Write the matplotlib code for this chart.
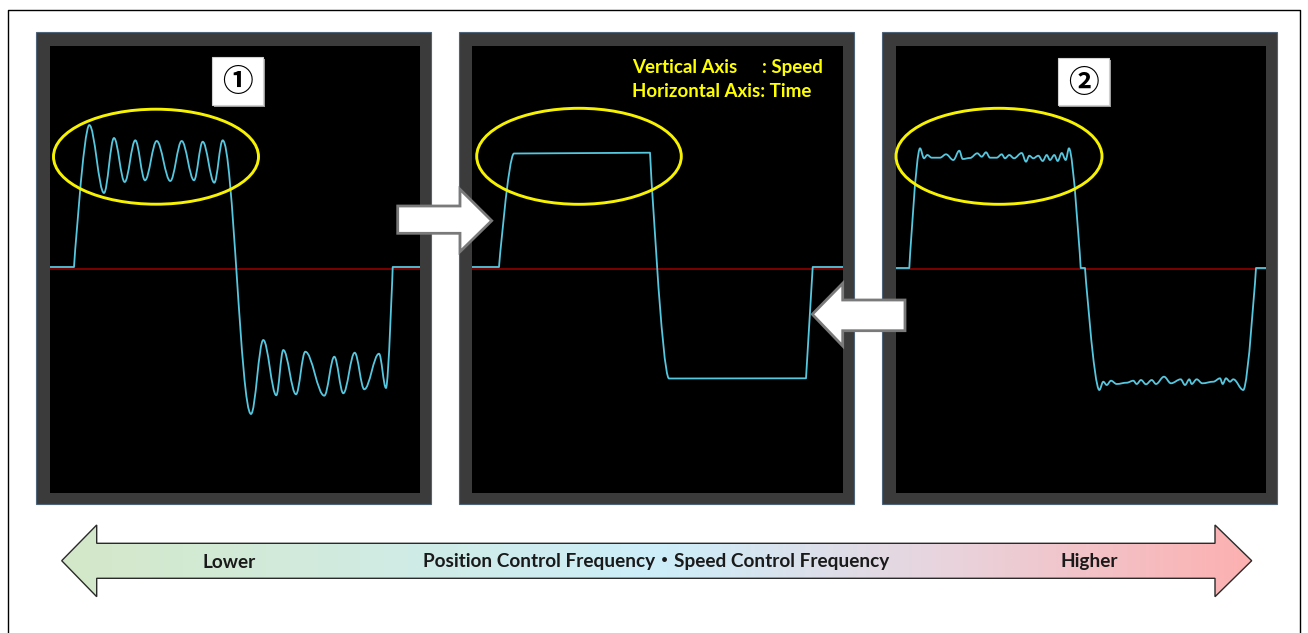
import numpy as np
import matplotlib
matplotlib.use("Agg")
import matplotlib.pyplot as plt
from matplotlib.path import Path
from matplotlib.patches import PathPatch, Rectangle, Ellipse, Polygon
from matplotlib.colors import LinearSegmentedColormap

# ---------------- data (time, speed) ----------------
# segment kinds: M=start, L=line, S=smooth (flat tangents both ends),
# E=ease into point, B=ease out of previous point
p1_time = [0, 24, 39.3, 54, 64, 74.7, 85.3, 95, 106.7, 120.3, 131.7, 144, 152.7, 164.3, 172.7,
           201, 213.3, 226.3, 233.3, 246, 255.3, 274.3, 284.3, 293.3, 304.7, 314.3, 329, 336,
           342.7, 370]
p1_speed = [2, 2, 144, 76, 131, 87, 128.7, 88.7, 128, 88, 128, 88.7, 127.3, 86.3, 128.7,
            -145, -71, -126.3, -81, -125.3, -82.7, -126.7, -87.7, -124.3, -83.7, -120.3, -84.7, -119,
            2, 2]
p1_kind = "ML" + "E" + "S" * 25 + "BL"

p2_time = [0, 27, 42, 178, 197, 334, 340.7, 371]
p2_speed = [2, 2, 115.5, 116.3, -109.5, -109.3, 2, 2]
p2_kind = "MLELELLL"

p3_time = [0, 13.3, 24, 28, 31.3, 35.7, 44, 50, 57.3, 63.3,
           66.7, 74, 81.3, 85.7, 90, 94, 100.7, 105.7, 109, 113.3,
           118, 125.7, 130, 133.3, 137.3, 142.3, 146.7, 150.7, 154, 158.3,
           161.7, 165.7, 169.7, 173, 184.7, 189, 203.3, 207.3, 210.7, 215,
           220.7, 230.7, 237.3, 240.7, 245, 250, 255.7, 260, 268, 275,
           284.7, 289, 293.3, 295.7, 300.7, 306.3, 317.3, 324, 326.7, 330,
           334, 337.3, 347.3, 360, 370]
p3_speed = [1, 1, 120.7, 110.7, 114, 111.3, 111.3, 114.7, 109, 118.3,
            110, 111, 115.7, 112.3, 116.7, 111.3, 111.3, 114.7, 110.7, 114,
            110.7, 116, 107.3, 113.3, 110.7, 113.3, 108, 114, 109, 114,
            108, 116, 109, 120.7, 1, 1, -121, -112.7, -116, -111.7,
            -115, -113.7, -111.7, -115, -111, -115.3, -111, -115, -107.7, -114.3,
            -110.3, -116, -110.3, -115, -110.3, -114.3, -112.7, -109.3, -115, -109.3,
            -112.7, -110.3, -121, 1, 1]
p3_kind = "ML" + "E" + "S" * 31 + "BLE" + "S" * 26 + "BL"

panel_labels = ["①", "②"]
axis_note = ["Vertical Axis", ": Speed", "Horizontal Axis", ": Time"]
bottom_texts = ["Lower", "Position Control Frequency・Speed Control Frequency", "Higher"]

# ---------------- figure ----------------
W, H = 1308, 633
fig = plt.figure(figsize=(W / 100, H / 100), dpi=100)
fig.patch.set_facecolor("white")

def add_px_axes(x0, y0, x1, y1, z):
    ax = fig.add_axes([x0 / W, 1 - y1 / H, (x1 - x0) / W, (y1 - y0) / H])
    ax.set_zorder(z)
    return ax

bg = add_px_axes(0, 0, W, H, 0)
bg.set_xlim(0, W); bg.set_ylim(H, 0); bg.axis("off")

# whole frame
bg.plot([8, 8, 1300, 1300], [633, 10, 10, 633], color="black", lw=1.0)

outer = [(36, 32, 431, 504), (459, 32, 854, 504), (882, 32, 1277, 504)]
inner = [(50, 46, 420, 493), (472, 46, 843, 493), (896, 46, 1266, 493)]
for (x0, y0, x1, y1) in outer:
    bg.add_patch(Rectangle((x0, y0), x1 - x0, y1 - y0, facecolor="#3b3b3b",
                           edgecolor="#4f6379", lw=0.8))

def build_path(t, v, kinds, k=0.36):
    verts = [(t[0], v[0])]
    codes = [Path.MOVETO]
    for i in range(1, len(t)):
        x0, y0, x1, y1 = t[i - 1], v[i - 1], t[i], v[i]
        dx = x1 - x0
        kd = kinds[i]
        if kd == "L":
            verts.append((x1, y1)); codes.append(Path.LINETO)
        else:
            if kd == "S":
                c1 = (x0 + k * dx, y0); c2 = (x1 - k * dx, y1)
            elif kd == "E":
                c1 = (x0, y0); c2 = (x1 - k * dx, y1)
            else:  # B
                c1 = (x0 + k * dx, y0); c2 = (x1, y1)
            verts += [c1, c2, (x1, y1)]
            codes += [Path.CURVE4] * 3
    return Path(verts, codes)

series = [(p1_time, p1_speed, p1_kind), (p2_time, p2_speed, p2_kind), (p3_time, p3_speed, p3_kind)]
for (x0, y0, x1, y1), (t, v, kd) in zip(inner, series):
    ax = add_px_axes(x0, y0, x1, y1, 1)
    ax.set_facecolor("black")
    ax.set_xlim(0, x1 - x0)
    ax.set_ylim(-(y1 - 269), 269 - y0)
    ax.set_xticks([]); ax.set_yticks([])
    for s in ax.spines.values():
        s.set_visible(False)
    ax.axhline(0, color="#a00000", lw=1.1, zorder=1)
    ax.add_patch(PathPatch(build_path(t, v, kd), fill=False, edgecolor="#55c7df",
                           lw=1.3, zorder=2, capstyle="round", joinstyle="round"))

# ---------------- overlay ----------------
ov = add_px_axes(0, 0, W, H, 10)
ov.patch.set_alpha(0)
ov.axis("off")

# ellipses
for (cx, cy, ew, eh) in [(156, 156.7, 205, 95), (579, 156.3, 204.6, 96), (999, 156.3, 206, 96)]:
    ov.add_patch(Ellipse((cx, cy), ew, eh, fill=False, edgecolor="#f7f200", lw=2.1))

# label boxes
boxes = [(212.3, 57.3, 263, 105.3), (1057.7, 58, 1109.3, 105.3)]
for (x0, y0, x1, y1), lab in zip(boxes, panel_labels):
    ov.add_patch(Rectangle((x0 + 1.5, y0 + 1.5), x1 - x0, y1 - y0, facecolor="#9a9a9a",
                           edgecolor="none"))
    ov.add_patch(Rectangle((x0, y0), x1 - x0, y1 - y0, facecolor="white",
                           edgecolor="#d0d0d0", lw=0.8))
    ov.text((x0 + x1) / 2, (y0 + y1) / 2 + 1, lab, ha="center", va="center", fontsize=22,
            fontweight="bold", family=["Noto Sans CJK JP", "DejaVu Sans"], color="black")

renderer = fig.canvas.get_renderer()

def fit_text(x, y, s, width, ha="left", **kw):
    t = ov.text(x, y, s, fontsize=10, ha=ha, va="center", **kw)
    w = t.get_window_extent(renderer).width
    t.set_fontsize(10 * width / w)
    return t

fam = ["Lato", "Noto Sans CJK JP", "DejaVu Sans"]
h = fit_text(632.3, 91.7, axis_note[2] + axis_note[3], 180, color="#ffff00",
             fontweight="bold", family=fam)
fs = h.get_fontsize()
ov.text(632.3, 67.3, axis_note[0], fontsize=fs, ha="left", va="center", color="#ffff00",
        fontweight="bold", family=fam)
ov.text(761.7, 67.3, axis_note[1], fontsize=fs, ha="left", va="center", color="#ffff00",
        fontweight="bold", family=fam)

# white block arrows between panels
right_arrow = [(397.7, 206), (460, 206), (460, 189.3), (491.7, 220.7), (460, 251.7),
               (460, 233.3), (397.7, 233.3)]
left_arrow = [(905, 300), (842.7, 300), (842.7, 283.3), (812.3, 314.3), (842.7, 346),
              (842.7, 330.7), (905, 330.7)]
for poly in (right_arrow, left_arrow):
    ov.add_patch(Polygon(poly, closed=True, facecolor="white", edgecolor="#7a7a7a",
                         lw=2.0, joinstyle="miter"))

# bottom gradient double arrow
big = [(61.7, 560.7), (96.7, 525), (96.7, 543.3), (1215, 543.3), (1215, 525),
       (1251.7, 560.7), (1215, 596.7), (1215, 578.3), (96.7, 578.3), (96.7, 596.7)]
cmap = LinearSegmentedColormap.from_list("g", [(0, "#d4e8c8"), (0.5, "#cdeefa"),
                                               (0.75, "#e9d3dc"), (1, "#fdb0b0")])
grad = np.linspace(0, 1, 512)[None, :]
im = ov.imshow(grad, cmap=cmap, extent=(61.7, 1251.7, 596.7, 525), aspect="auto",
               interpolation="bilinear", zorder=3)
bp = Polygon(big, closed=True, facecolor="none", edgecolor="#2a2a2a", lw=1.0, zorder=4)
ov.add_patch(bp)
im.set_clip_path(bp)

b = fit_text(656.5, 562, bottom_texts[1], 467, ha="center", color="#1a1a1a",
             fontweight="bold", family=fam, zorder=5)
bfs = b.get_fontsize()
ov.text(229, 562, bottom_texts[0], fontsize=bfs, ha="center", va="center", color="#1a1a1a",
        fontweight="bold", family=fam, zorder=5)
ov.text(1089, 562, bottom_texts[2], fontsize=bfs, ha="center", va="center", color="#1a1a1a",
        fontweight="bold", family=fam, zorder=5)

ov.set_xlim(0, W); ov.set_ylim(H, 0)

fig.savefig("out.png", dpi=100, facecolor="white")
